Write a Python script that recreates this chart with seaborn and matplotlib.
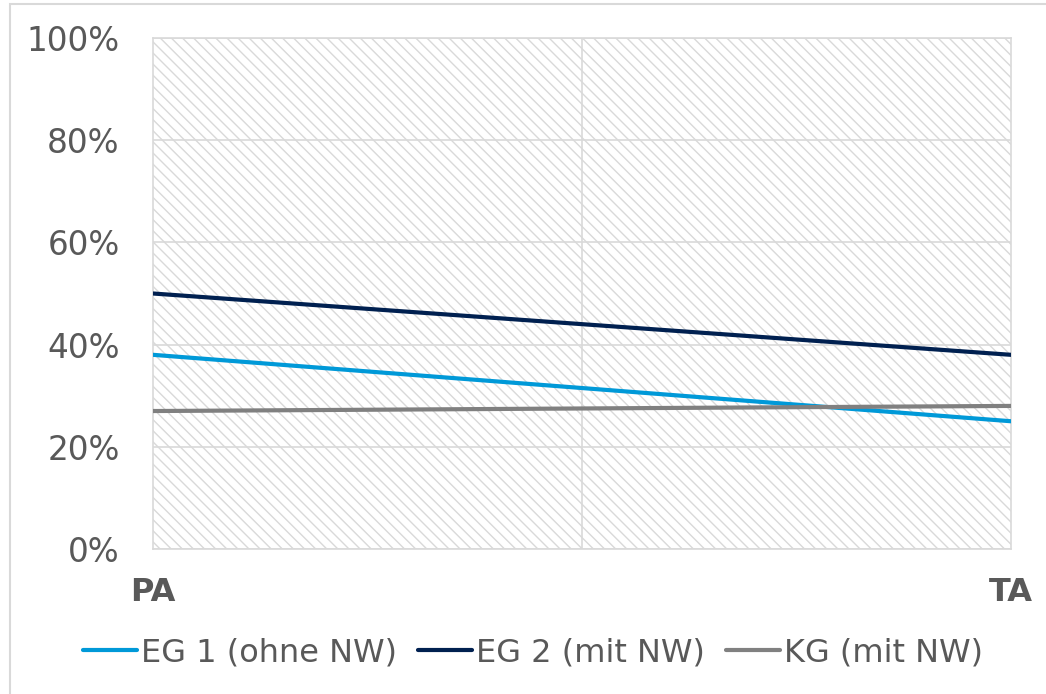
import matplotlib
matplotlib.use("Agg")
import matplotlib.pyplot as plt
import matplotlib.patches as mpatches
import pandas as pd
import seaborn as sns

# data
zeitpunkte = ["PA", "TA"]
gruppen = ["EG 1 (ohne NW)", "EG 2 (mit NW)", "KG (mit NW)"]
eg1 = [38, 25]
eg2 = [50, 38]
kg = [27, 28]
farben = ["#0099D8", "#002050", "#808080"]

df = pd.DataFrame({
    "zeit": zeitpunkte * 3,
    "wert": eg1 + eg2 + kg,
    "gruppe": [g for g in gruppen for _ in zeitpunkte],
})

sns.set_theme(style="white")
plt.rcParams["font.family"] = ["DejaVu Sans"]
plt.rcParams["hatch.color"] = "#dcdcdc"
plt.rcParams["hatch.linewidth"] = 1.0

grau = "#d9d9d9"
text = "#595959"

fig = plt.figure(figsize=(10.46, 6.94), dpi=100)
ax = fig.add_axes([153 / 1046, 1 - 549 / 694, (1011 - 153) / 1046, (549 - 38) / 694])

# hatched plot area
ax.patch.set_facecolor("white")
ax.add_patch(mpatches.Rectangle((0, 0), 1, 1, transform=ax.transAxes,
                                facecolor="white", edgecolor=grau,
                                hatch="\\\\\\", linewidth=0, zorder=0))

sns.lineplot(data=df, x="zeit", y="wert", hue="gruppe", palette=farben,
             linewidth=3, ax=ax, legend=True, zorder=3)

ax.set_xlim(0, 1)
ax.set_ylim(0, 100)
ax.set_yticks([0, 20, 40, 60, 80, 100])
ax.set_yticklabels([f"{v}%" for v in [0, 20, 40, 60, 80, 100]])
ax.set_xticks([0, 1])
ax.set_xticklabels(zeitpunkte, fontweight="bold")
ax.set_xticks([0.5], minor=True)
ax.set_xlabel("")
ax.set_ylabel("")

ax.grid(True, axis="y", color=grau, linewidth=1.2, zorder=1)
ax.grid(True, axis="x", which="minor", color=grau, linewidth=1.2, zorder=1)
ax.set_axisbelow(True)
for s in ax.spines.values():
    s.set_color(grau)
    s.set_linewidth(1.2)

ax.tick_params(axis="y", length=0, pad=24, labelsize=23.5, colors=text)
ax.tick_params(axis="x", which="major", length=0, pad=20, labelsize=23, colors=text)
ax.tick_params(axis="x", which="minor", length=0)

handles, labels = ax.get_legend_handles_labels()
ax.legend_.remove()
fig.legend(handles, labels, loc="center", bbox_to_anchor=(533 / 1046, 1 - 653 / 694),
           ncol=3, frameon=False, fontsize=23, handlelength=1.7,
           handletextpad=0.12, columnspacing=0.65, labelcolor=text)

# outer chart border
fig.patches.append(mpatches.Rectangle((10 / 1046, -0.1), 1.2, 1.1 - 4 / 694,
                                      transform=fig.transFigure, fill=False,
                                      edgecolor=grau, linewidth=1.5))

fig.savefig("out.png", dpi=100)
